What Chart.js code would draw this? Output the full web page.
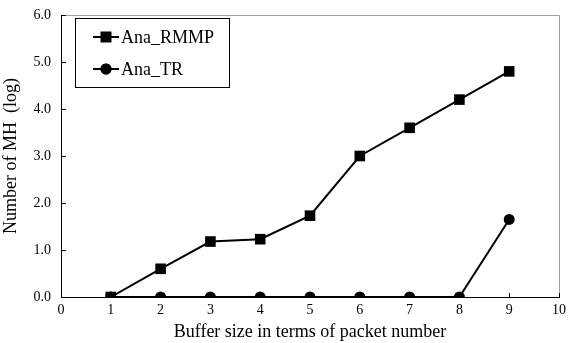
<!DOCTYPE html>
<html>
<head>
<meta charset="utf-8">
<script src="https://cdn.jsdelivr.net/npm/chart.js@4/dist/chart.umd.min.js"></script>
<style>
  html, body { margin: 0; padding: 0; background: #fff; }
  #wrap { width: 568px; height: 343px; position: relative; }
</style>
</head>
<body>
<div id="wrap"><canvas id="chart"></canvas></div>
<script>
'use strict';

const bufferSizes = [1, 2, 3, 4, 5, 6, 7, 8, 9];
const rmmpValues = [0, 0.6, 1.18, 1.23, 1.73, 3.0, 3.6, 4.2, 4.8];
const trValues = [0, 0, 0, 0, 0, 0, 0, 0, 1.65];
const seriesNames = ['Ana_RMMP', 'Ana_TR'];
const xTitle = 'Buffer size in terms of packet number';
const yTitle = 'Number of MH  (log)';

const FONT = "'Liberation Serif', 'Times New Roman', serif";

function toPoints(ys) {
  return bufferSizes.map((x, i) => ({ x: x, y: ys[i] }));
}

// frame, inward ticks and boxed legend like the original spreadsheet chart
const framePlugin = {
  id: 'frame',
  afterDraw(chart) {
    const ctx = chart.ctx;
    const a = chart.chartArea;
    const xs = chart.scales.x, ys = chart.scales.y;
    ctx.save();
    ctx.lineWidth = 1;
    ctx.strokeStyle = '#a0a0a0';
    ctx.beginPath();
    ctx.moveTo(a.left, a.top + 0.5);
    ctx.lineTo(a.right + 0.5, a.top + 0.5);
    ctx.lineTo(a.right + 0.5, a.bottom);
    ctx.stroke();
    ctx.strokeStyle = '#000';
    ctx.beginPath();
    ctx.moveTo(a.left + 0.5, a.top);
    ctx.lineTo(a.left + 0.5, a.bottom + 0.5);
    ctx.lineTo(a.right + 1, a.bottom + 0.5);
    ctx.stroke();
    ctx.beginPath();
    xs.ticks.forEach(t => {
      const px = Math.round(xs.getPixelForValue(t.value)) + 0.5;
      ctx.moveTo(px, a.bottom);
      ctx.lineTo(px, a.bottom - 4);
    });
    ys.ticks.forEach(t => {
      const py = Math.round(ys.getPixelForValue(t.value)) + 0.5;
      ctx.moveTo(a.left, py);
      ctx.lineTo(a.left + 5, py);
    });
    ctx.stroke();

    // legend box
    const bx = 75.5, by = 18.5, bw = 154, bh = 69;
    ctx.strokeStyle = '#000';
    ctx.strokeRect(bx, by, bw, bh);
    ctx.font = '18px ' + FONT;
    ctx.fillStyle = '#000';
    ctx.textBaseline = 'middle';
    chart.data.datasets.forEach((ds, i) => {
      const cy = 37 + i * 32;
      ctx.lineWidth = 2;
      ctx.beginPath();
      ctx.moveTo(93, cy);
      ctx.lineTo(119, cy);
      ctx.stroke();
      Chart.helpers.drawPoint(ctx, { pointStyle: ds.pointStyle, radius: ds.pointRadius, borderWidth: 0 }, 106, cy);
      ctx.fill();
      ctx.fillText(ds.label, 121, cy + 1);
    });
    ctx.restore();
  }
};

new Chart(document.getElementById('chart'), {
  type: 'line',
  data: {
    datasets: [
      {
        label: seriesNames[0],
        data: toPoints(rmmpValues),
        borderColor: '#000',
        backgroundColor: '#000',
        borderWidth: 2,
        pointStyle: 'rect',
        pointRadius: 7.5,
        pointBorderWidth: 0,
        tension: 0
      },
      {
        label: seriesNames[1],
        data: toPoints(trValues),
        borderColor: '#000',
        backgroundColor: '#000',
        borderWidth: 2,
        pointStyle: 'circle',
        pointRadius: 5.5,
        pointBorderWidth: 0,
        tension: 0
      }
    ]
  },
  options: {
    responsive: true,
    maintainAspectRatio: false,
    animation: false,
    layout: { padding: { top: 15, right: 9, left: 0, bottom: 0 } },
    plugins: { legend: { display: false }, tooltip: { enabled: false } },
    scales: {
      x: {
        type: 'linear',
        min: 0,
        max: 10,
        border: { display: false },
        grid: { display: false, drawTicks: false },
        ticks: { stepSize: 1, color: '#000', padding: 5, font: { family: FONT, size: 14 } },
        title: { display: true, text: xTitle, color: '#000', padding: { top: 0, bottom: 0 }, font: { family: FONT, size: 18 } },
        afterFit(scale) { scale.height = 46; scale.paddingRight = 0; scale.paddingLeft = 0; }
      },
      y: {
        min: 0,
        max: 6,
        border: { display: false },
        grid: { display: false, drawTicks: false },
        ticks: {
          stepSize: 1,
          color: '#000',
          padding: 10,
          font: { family: FONT, size: 14 },
          callback: v => Number(v).toFixed(1)
        },
        title: { display: true, text: yTitle, color: '#000', padding: { top: 0, bottom: 4 }, font: { family: FONT, size: 18 } },
        afterFit(scale) { scale.width = 61; scale.paddingTop = 0; scale.paddingBottom = 0; }
      }
    }
  },
  plugins: [framePlugin]
});
</script>
</body>
</html>
